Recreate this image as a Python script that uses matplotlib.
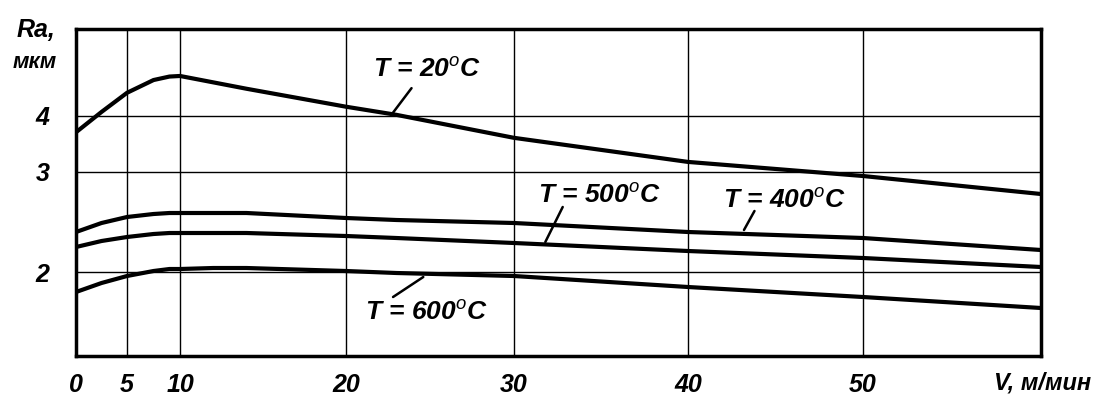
import numpy as np
import matplotlib
matplotlib.use("Agg")
import matplotlib.pyplot as plt

# ---- Data ----
V = [0, 2.5, 5, 7.5, 9, 10, 12, 14, 20, 23, 30, 40, 50, 60]
ra_20 = [3.71, 4.07, 4.40, 4.62, 4.68, 4.69, 4.58, 4.47, 4.16, 4.02, 3.61, 3.18, 2.96, 2.78]
ra_400 = [2.40, 2.49, 2.55, 2.58, 2.59, 2.59, 2.59, 2.59, 2.54, 2.52, 2.49, 2.40, 2.34, 2.22]
ra_500 = [2.25, 2.31, 2.35, 2.38, 2.39, 2.39, 2.39, 2.39, 2.36, 2.34, 2.29, 2.21, 2.14, 2.05]
ra_600 = [1.80, 1.89, 1.96, 2.01, 2.03, 2.03, 2.04, 2.04, 2.01, 1.99, 1.96, 1.85, 1.75, 1.64]

x_ticks = [0, 5, 10, 20, 30, 40, 50]
y_ticks = [2, 3, 4]

# ---- Non-uniform axes of the original drawing (piecewise linear) ----
x_anchor = [0, 5, 10, 20, 30, 40, 50, 60]
x_pos = [0, 51, 104, 270, 438, 612, 787, 965]
y_anchor = [1.16, 2, 3, 4, 5.5]
y_pos = [0, 84, 184, 240, 327]


def x_fwd(v):
    return np.interp(v, x_anchor, x_pos)


def x_inv(p):
    return np.interp(p, x_pos, x_anchor)


def y_fwd(v):
    return np.interp(v, y_anchor, y_pos)


def y_inv(p):
    return np.interp(p, y_pos, y_anchor)


plt.rcParams["font.family"] = ["Liberation Sans", "DejaVu Sans"]
plt.rcParams["mathtext.fontset"] = "custom"
plt.rcParams["mathtext.it"] = "Liberation Sans:italic"
plt.rcParams["mathtext.rm"] = "Liberation Sans:italic"

fig = plt.figure(figsize=(11.02, 4.01), dpi=100)
ax = fig.add_axes([0.069, 0.1122, 0.8756, 0.8155])

ax.set_xscale("function", functions=(x_fwd, x_inv))
ax.set_yscale("function", functions=(y_fwd, y_inv))
ax.set_xlim(0, 60)
ax.set_ylim(1.16, 5.5)

for curve in (ra_20, ra_400, ra_500, ra_600):
    ax.plot(V, curve, color="black", lw=3.0, solid_capstyle="butt",
            solid_joinstyle="round", zorder=3)

# ---- Grid / frame ----
ax.set_xticks(x_ticks)
ax.set_yticks(y_ticks)
ax.minorticks_off()
ax.grid(True, color="black", lw=1.0)
ax.tick_params(length=0)
ax.set_xticklabels([str(t) for t in x_ticks], fontsize=18,
                   fontweight="bold", fontstyle="italic")
ax.set_yticklabels([str(t) for t in y_ticks], fontsize=18,
                   fontweight="bold", fontstyle="italic")
ax.tick_params(axis="x", pad=12)
ax.tick_params(axis="y", pad=19)
for s in ax.spines.values():
    s.set_linewidth(2.5)

# axis captions
fig.text(36 / 1102, 1 - 30 / 401, "Ra,", fontsize=18, fontweight="bold",
         fontstyle="italic", ha="center", va="center")
fig.text(35 / 1102, 1 - 62 / 401, "мкм", fontsize=16, fontweight="bold",
         fontstyle="italic", ha="center", va="center")
fig.text(1043 / 1102, 1 - 383 / 401, "V, м/мин", fontsize=17,
         fontweight="bold", fontstyle="italic", ha="center", va="center")

# ---- Curve labels with leader lines ----
labels = [
    ("T = 20$^o$C", (24.8, 4.79), (23.9, 4.48), (22.7, 4.02)),
    ("T = 500$^o$C", (34.9, 2.76), (32.8, 2.65), (31.8, 2.30)),
    ("T = 400$^o$C", (45.5, 2.71), (43.8, 2.61), (43.2, 2.42)),
    ("T = 600$^o$C", (24.8, 1.59), (22.8, 1.75), (24.6, 1.95)),
]
for text, txt_xy, lead_a, lead_b in labels:
    ax.text(txt_xy[0], txt_xy[1], text, fontsize=19, fontstyle="italic",
            fontweight="bold", ha="center", va="center", zorder=4)
    ax.annotate("", xy=lead_b, xytext=lead_a,
                arrowprops=dict(arrowstyle="-", color="black", lw=1.8,
                                shrinkA=0, shrinkB=0))

fig.savefig("out.png", dpi=100)
